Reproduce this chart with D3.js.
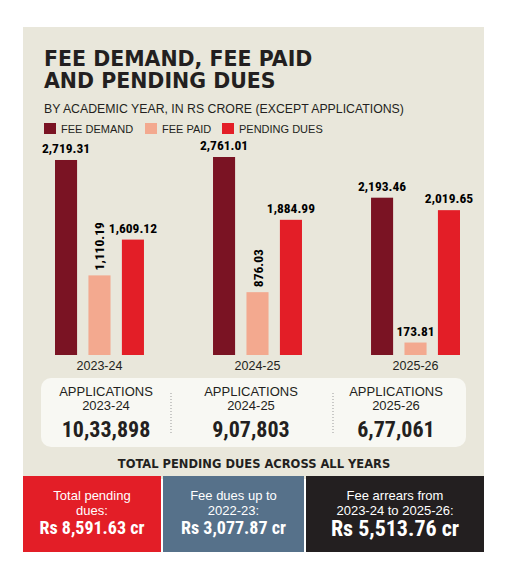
<!DOCTYPE html>
<html><head><meta charset="utf-8">
<script src="https://cdn.jsdelivr.net/npm/d3@7"></script>
<style>
body{margin:0;background:#fff;}
text{font-family:"Liberation Sans",Arial,sans-serif;}
.nar{font-family:"Liberation Sans Narrow","Roboto Condensed","DejaVu Sans Condensed",sans-serif;font-weight:bold;}
.hv{font-family:"DejaVu Sans",sans-serif;font-weight:900;}
</style></head><body>
<svg id="c" width="507" height="580"></svg>
<script>
var years = ["2023-24", "2024-25", "2025-26"];
var series = ["FEE DEMAND", "FEE PAID", "PENDING DUES"];
var colors = ["#7a1323", "#f3a98f", "#e31e27"];
var feeDemand = [2719.31, 2761.01, 2193.46];
var feePaid = [1110.19, 876.03, 173.81];
var pendingDues = [1609.12, 1884.99, 2019.65];
var applications = ["10,33,898", "9,07,803", "6,77,061"];
var boxes = [
  {lines: ["Total pending", "dues:"], value: "Rs 8,591.63 cr", color: "#e31e27"},
  {lines: ["Fee dues up to", "2022-23:"], value: "Rs 3,077.87 cr", color: "#56718a"},
  {lines: ["Fee arrears from", "2023-24 to 2025-26:"], value: "Rs 5,513.76 cr", color: "#231f20"}
];

var svg = d3.select("#c");
svg.append("rect").attr("x", 23).attr("y", 27).attr("width", 461).attr("height", 452).attr("fill", "#e9e7db");

svg.append("text").attr("class", "hv").attr("x", 44).attr("y", 66).attr("font-size", 20.5).attr("fill", "#231f20").text("FEE DEMAND, FEE PAID");
svg.append("text").attr("class", "hv").attr("x", 44).attr("y", 88).attr("font-size", 20.5).attr("fill", "#231f20").text("AND PENDING DUES");
svg.append("text").attr("x", 44).attr("y", 113).attr("font-size", 12.3).attr("fill", "#231f20").text("BY ACADEMIC YEAR, IN RS CRORE (EXCEPT APPLICATIONS)");

var lx = [44, 145, 222];
series.forEach(function(s, i) {
  svg.append("rect").attr("x", lx[i]).attr("y", 123).attr("width", 12).attr("height", 11).attr("fill", colors[i]);
  svg.append("text").attr("x", lx[i] + 17).attr("y", 133).attr("font-size", 11).attr("fill", "#231f20").text(s);
});

var x0 = d3.scaleBand().domain(years).range([55, 460]).paddingInner(0.437).paddingOuter(0);
var x1 = d3.scaleBand().domain(series).range([0, x0.bandwidth()]).paddingInner(0.34).paddingOuter(0);
var y = d3.scaleLinear().domain([0, 2761.01]).range([355, 157]);
var data = [feeDemand, feePaid, pendingDues];
var fmt = d3.format(",.2f");

years.forEach(function(yr, i) {
  var g = svg.append("g").attr("transform", "translate(" + x0(yr) + ",0)");
  series.forEach(function(s, j) {
    var v = data[j][i];
    var bx = x1(s), bw = x1.bandwidth();
    g.append("rect").attr("x", bx).attr("y", y(v)).attr("width", bw).attr("height", y(0) - y(v)).attr("fill", colors[j]);
    if (j === 1 && i < 2) {
      g.append("text").attr("class", "nar").attr("font-size", 13.5)
        .attr("transform", "translate(" + (bx + bw / 2 + 5) + "," + (y(v) - 5) + ") rotate(-90)")
        .text(fmt(v));
    } else {
      g.append("text").attr("class", "nar").attr("font-size", 13.5).attr("text-anchor", "middle")
        .attr("x", bx + bw / 2).attr("y", y(v) - 7).text(fmt(v));
    }
  });
  svg.append("text").attr("x", x0(yr) + x0.bandwidth() / 2).attr("y", 370).attr("text-anchor", "middle")
    .attr("font-size", 12.5).attr("fill", "#231f20").text(yr);
});

svg.append("rect").attr("x", 41).attr("y", 378).attr("width", 425).attr("height", 69).attr("rx", 10).attr("fill", "#f8f8f3");
var ax = d3.scalePoint().domain(years).range([106, 396]);
years.forEach(function(yr, i) {
  var cx = ax(yr);
  svg.append("text").attr("x", cx).attr("y", 396).attr("text-anchor", "middle").attr("font-size", 13).attr("fill", "#231f20").text("APPLICATIONS");
  svg.append("text").attr("x", cx).attr("y", 410).attr("text-anchor", "middle").attr("font-size", 13).attr("fill", "#231f20").text(yr);
  svg.append("text").attr("class", "nar").attr("x", cx).attr("y", 437).attr("text-anchor", "middle").attr("font-size", 22).attr("fill", "#231f20").text(applications[i]);
});
[171, 333].forEach(function(sx) {
  svg.append("line").attr("x1", sx).attr("x2", sx).attr("y1", 393).attr("y2", 433).attr("stroke", "#999").attr("stroke-dasharray", "1,2");
});

svg.append("text").attr("class", "hv").attr("x", 254).attr("y", 468).attr("text-anchor", "middle").attr("font-size", 11.5).attr("fill", "#231f20").text("TOTAL PENDING DUES ACROSS ALL YEARS");

var bxs = [[23, 161], [163, 304], [306, 484]];
boxes.forEach(function(b, i) {
  var x = bxs[i][0], w = bxs[i][1] - x, cx = x + w / 2;
  svg.append("rect").attr("x", x).attr("y", 476).attr("width", w).attr("height", 76).attr("fill", b.color);
  b.lines.forEach(function(l, k) {
    svg.append("text").attr("x", cx).attr("y", 500 + k * 14.5).attr("text-anchor", "middle").attr("font-size", 13).attr("fill", "#fff").text(l);
  });
  svg.append("text").attr("class", "nar").attr("x", cx).attr("y", 534 + (i === 2 ? 2 : 0)).attr("text-anchor", "middle")
    .attr("font-size", i === 2 ? 22 : 18).attr("fill", "#fff").text(b.value);
});
</script></body></html>
